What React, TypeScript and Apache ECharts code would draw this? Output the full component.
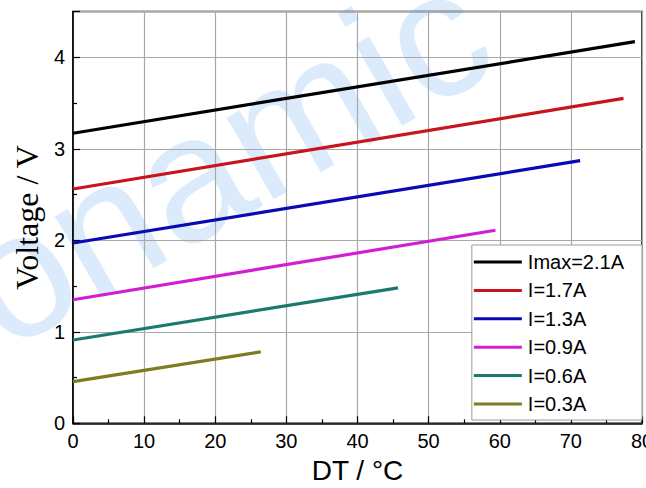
import React, { useEffect, useRef } from "react";
import * as echarts from "echarts";

const seriesNames = ["Imax=2.1A", "I=1.7A", "I=1.3A", "I=0.9A", "I=0.6A", "I=0.3A"];
const seriesColors = ["#000000", "#c8141e", "#0a0ab4", "#d21ed2", "#1c7a6c", "#7c7c22"];
const imax21: number[][] = [[0, 3.17], [79.0, 4.17]];
const i17: number[][] = [[0, 2.56], [77.4, 3.55]];
const i13: number[][] = [[0, 1.97], [71.3, 2.87]];
const i09: number[][] = [[0, 1.35], [59.4, 2.11]];
const i06: number[][] = [[0, 0.91], [45.7, 1.48]];
const i03: number[][] = [[0, 0.455], [26.4, 0.78]];
const seriesData = [imax21, i17, i13, i09, i06, i03];
const watermark = "onamic";

const sans = "'Liberation Sans', Arial, sans-serif";

export default function App() {
  const ref = useRef<HTMLDivElement>(null);
  useEffect(() => {
    if (!ref.current) return;
    const chart = echarts.init(ref.current, null, { renderer: "svg" });
    chart.setOption({
      animation: false,
      backgroundColor: "#ffffff",
      graphic: [
        {
          type: "text",
          z: -10,
          silent: true,
          x: 19,
          y: 377,
          rotation: 0.52,
          style: {
            text: watermark,
            font: "178px 'Liberation Sans', Arial, sans-serif",
            fill: "rgba(190,218,250,0.55)",
            textVerticalAlign: "bottom",
          },
        },
      ],
      grid: {
        left: 73,
        right: 4,
        top: 11.5,
        bottom: 64.7,
        outerBoundsMode: "none",
        containLabel: false,
        show: true,
        borderColor: "#000",
        borderWidth: 1.5,
        backgroundColor: "transparent",
      },
      legend: {
        orient: "vertical",
        right: 4,
        bottom: 68,
        backgroundColor: "#ffffff",
        borderColor: "#9a9a9a",
        borderWidth: 1,
        padding: [5, 18, 4, 2],
        itemWidth: 48,
        itemHeight: 3,
        itemGap: 4.4,
        icon: "rect",
        textStyle: {
          fontFamily: sans,
          fontSize: 20,
          lineHeight: 24,
          color: "#000",
          padding: [0, 0, 0, 1],
        },
        data: seriesNames,
      },
      xAxis: {
        type: "value",
        min: 0,
        max: 80,
        interval: 10,
        name: "DT / °C",
        nameLocation: "middle",
        nameGap: 30,
        nameTextStyle: { fontFamily: sans, fontSize: 28, color: "#000" },
        axisLine: { show: true, lineStyle: { color: "#000", width: 1.5 } },
        axisTick: { show: true, inside: true, length: 7, lineStyle: { color: "#000", width: 1.2 } },
        minorTick: { show: true, splitNumber: 2, length: 4, lineStyle: { color: "#000", width: 1.2 } },
        axisLabel: { fontFamily: sans, fontSize: 20, color: "#000", margin: 8 },
        splitLine: { show: true, lineStyle: { color: "#a8a8a8", width: 1.2 } },
      },
      yAxis: {
        type: "value",
        min: 0,
        max: 4.5,
        interval: 1,
        name: "Voltage / V",
        nameLocation: "middle",
        nameGap: 28,
        nameTextStyle: { fontFamily: "'Liberation Serif', 'Times New Roman', serif", fontSize: 32, color: "#000" },
        axisLine: { show: true, lineStyle: { color: "#000", width: 1.5 } },
        axisTick: { show: true, inside: true, length: 7, lineStyle: { color: "#000", width: 1.2 } },
        minorTick: { show: true, splitNumber: 2, length: 4, lineStyle: { color: "#000", width: 1.2 } },
        axisLabel: { fontFamily: sans, fontSize: 20, color: "#000", margin: 8, showMaxLabel: false },
        splitLine: { show: true, lineStyle: { color: "#a8a8a8", width: 1.2 } },
      },
      series: seriesNames.map((name, i) => ({
        name,
        type: "line",
        data: seriesData[i],
        showSymbol: false,
        symbol: "none",
        lineStyle: { color: seriesColors[i], width: 3.2 },
        itemStyle: { color: seriesColors[i] },
      })),
    });
    return () => chart.dispose();
  }, []);
  return <div ref={ref} style={{ width: 646, height: 488, position: "fixed", left: 0, top: 0 }} />;
}
